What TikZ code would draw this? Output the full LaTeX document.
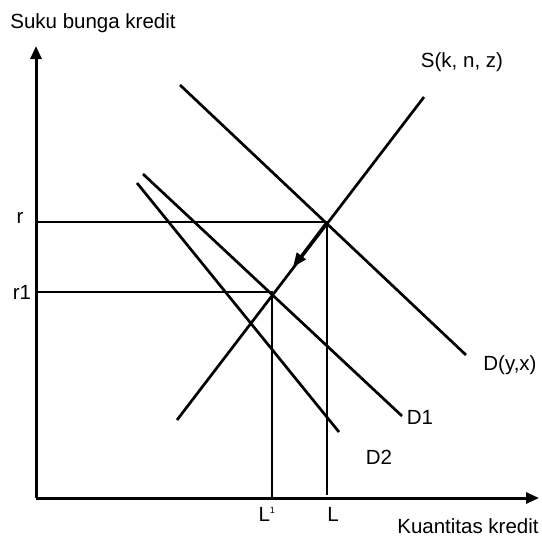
\documentclass[tikz,border=0pt]{standalone}
\usepackage{fontspec}
\setmainfont{Liberation Sans}
\usetikzlibrary{arrows.meta}
\begin{document}
\begin{tikzpicture}[x=1pt,y=-1pt,
  axis/.style={line width=3pt,-{Triangle[length=13pt,width=11pt]}},
  curve/.style={line width=2.7pt},
  guide/.style={line width=2.4pt},
  lbl/.style={font=\fontsize{20.5}{24}\selectfont,inner sep=0pt}]
\useasboundingbox (0,0) rectangle (542,539);
% axes
\coordinate (O) at (36,498);
\coordinate (Ytop) at (36,46);
\coordinate (Xend) at (539,498);
\draw[axis] (O) -- (Ytop);
\draw[axis] (O) -- (Xend);
% curves
\coordinate (S1) at (177,420); \coordinate (S2) at (424,97);
\coordinate (D0a) at (180,85); \coordinate (D0b) at (466,355);
\coordinate (D1a) at (143,174); \coordinate (D1b) at (402,416);
\coordinate (D2a) at (137,183); \coordinate (D2b) at (339,432);
\draw[curve] (S1) -- (S2);
\draw[curve] (D0a) -- (D0b);
\draw[curve] (D1a) -- (D1b);
\draw[curve] (D2a) -- (D2b);
% equilibrium points
\coordinate (E) at (327,222);
\coordinate (E1) at (272,292);
\coordinate (Ry) at (36,222); \coordinate (R1y) at (36,292);
\coordinate (Lx) at (327,495); \coordinate (L1x) at (272,498);
\draw[guide] (Ry) -- (E) -- (Lx);
\draw[guide] (R1y) -- (E1) -- (L1x);
% shift arrow along S
\coordinate (Atip) at (293,267);
\draw[curve,-{Triangle[length=14pt,width=11pt]}] (E) -- (Atip);
% labels
\node[lbl] (ylab) at (93,23) {Suku bunga kredit};
\node[lbl] (xlab) at (468,526) {Kuantitas kredit};
\node[lbl] (Slab) at (462,62) {S(k, n, z)};
\node[lbl] (Dlab) at (510,365) {D(y,x)};
\node[lbl] (D1lab) at (420,417) {D1};
\node[lbl] (D2lab) at (379,457) {D2};
\node[lbl] (rlab) at (20,218) {r};
\node[lbl] (r1lab) at (22,292) {r1};
\node[lbl] (L1lab) at (267,514) {L\textsuperscript{\fontsize{9}{10}\selectfont 1}};
\node[lbl] (Llab) at (333,514) {L};
\end{tikzpicture}
\end{document}
